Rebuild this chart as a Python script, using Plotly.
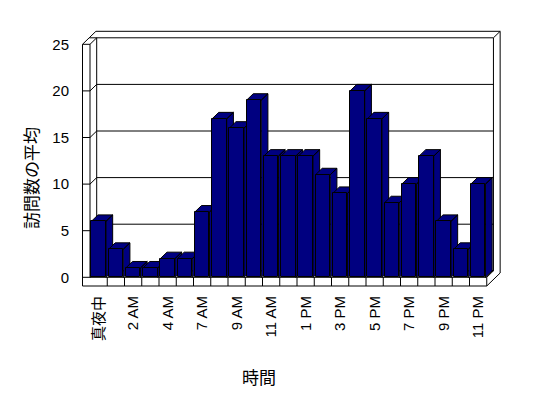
import plotly.graph_objects as go

# ---- data ----
hours = ["真夜中", "1 AM", "2 AM", "3 AM", "4 AM", "6 AM", "7 AM", "8 AM", "9 AM",
         "10 AM", "11 AM", "12 PM", "1 PM", "2 PM", "3 PM", "4 PM", "5 PM", "6 PM",
         "7 PM", "8 PM", "9 PM", "10 PM", "11 PM"]
visits = [6, 3, 1, 1, 2, 2, 7, 17, 16, 19, 13, 13, 13, 11, 9, 20, 17, 8, 10, 13, 6, 3, 10]
y_ticks = [0, 5, 10, 15, 20, 25]
y_title = "訪問数の平均"
x_title = "時間"

# ---- geometry (pixels -> data units) ----
W, H = 548, 398
PX_CAT = 17.25          # pixels per category
PX_VAL = 9.32           # pixels per value unit
X0_PX = 90.0            # pixel of category edge -0.5
Y0_PX = 277.3           # pixel of value 0 (front plane)
L_M, R_M, T_M, B_M = 80, 46, 28, 108
pw, ph = W - L_M - R_M, H - T_M - B_M
x_lo = -0.5 - (X0_PX - L_M) / PX_CAT
x_hi = x_lo + pw / PX_CAT
y_lo = -((H - B_M) - Y0_PX) / PX_VAL
y_hi = y_lo + ph / PX_VAL

DX = 6.7 / PX_CAT       # depth offset, category units
DY = 6.5 / PX_VAL       # depth offset, value units
LW = 7.5 / PX_CAT       # left wall thickness
FT = 8.7 / PX_VAL       # floor thickness
n = len(visits)
xe = n - 0.5            # right edge of categories
xl_in, xl_out = -0.5, -0.5 - LW
top = y_ticks[-1]
hw = 0.425

fig = go.Figure()

# ---- walls, floor and grid (line work) ----
wx, wy = [], []
def seg(xs, ys):
    wx.extend(list(xs) + [None]); wy.extend(list(ys) + [None])

# front faces of left wall + floor
seg([xl_in, xl_out, xl_out, xe, xe, xl_in, xl_in], [top, top, -FT, -FT, 0, 0, top])
# left wall top
seg([xl_out, xl_out + DX, xl_in + DX], [top, top + DY, top + DY])
seg([xl_in, xl_in + DX], [top, top + DY])
# back wall inner face
seg([xl_in + DX, xe + DX, xe + DX, xl_in + DX, xl_in + DX], [DY, DY, top + DY, top + DY, DY])
# back wall top & right outer edge
seg([xl_out + DX, xl_out + 2 * DX, xe + 2 * DX, xe + 2 * DX], [top + DY, top + 2 * DY, top + 2 * DY, -FT + 2 * DY])
seg([xe + DX, xe + 2 * DX], [top + DY, top + 2 * DY])
# floor right side
seg([xe, xe + DX], [0, DY])
seg([xe, xe + 2 * DX], [-FT, -FT + 2 * DY])
# grid: front tick across left wall, diagonal along wall, line on back wall
for v in y_ticks[:-1]:
    seg([xl_out, xl_in, xl_in + DX, xe + DX], [v, v, v + DY, v + DY])
# floor front dividers
for k in range(n - 1):
    seg([k + 0.5, k + 0.5], [-FT, 0])

fig.add_trace(go.Scatter(x=wx, y=wy, mode="lines", line=dict(color="black", width=1),
                         hoverinfo="skip", showlegend=False))

# ---- top and side faces of each column ----
for i, v in enumerate(visits):
    L, R = i - hw, i + hw
    fx = [L, R, R + DX, L + DX, L, None, R, R + DX, R + DX, R, R]
    fy = [v, v, v + DY, v + DY, v, None, 0, DY, v + DY, v, 0]
    fig.add_trace(go.Scatter(x=fx, y=fy, mode="lines", fill="toself",
                             fillcolor="#000080", line=dict(color="black", width=1),
                             hoverinfo="skip", showlegend=False))

# ---- front faces (bars) on overlay axes so they sit on top ----
fig.add_trace(go.Bar(x=list(range(n)), y=visits, width=2 * hw, xaxis="x2", yaxis="y2",
                     marker=dict(color="#000080", line=dict(color="black", width=1)),
                     hovertext=hours, showlegend=False))

tick_font = dict(family="Liberation Sans, Arial, Noto Sans CJK JP", size=15, color="black")
fig.update_layout(
    width=W, height=H,
    margin=dict(l=L_M, r=R_M, t=T_M, b=B_M, pad=0),
    paper_bgcolor="white", plot_bgcolor="white",
    bargap=0,
    xaxis=dict(range=[x_lo, x_hi], showgrid=False, zeroline=False, showline=False,
               tickmode="array", tickvals=list(range(0, n, 2)),
               ticktext=[hours[i] for i in range(0, n, 2)],
               tickangle=-90, tickfont=tick_font, ticks="", ticklabelstandoff=2),
    yaxis=dict(range=[y_lo, y_hi], showgrid=False, zeroline=False, showline=False,
               tickmode="array", tickvals=y_ticks, tickfont=tick_font, ticks="",
               ticklabelstandoff=10),
    xaxis2=dict(overlaying="x", matches="x", visible=False, range=[x_lo, x_hi]),
    yaxis2=dict(overlaying="y", matches="y", visible=False, range=[y_lo, y_hi]),
    annotations=[
        dict(text=y_title, textangle=-90, xref="paper", yref="paper",
             x=(30 - L_M) / pw, y=((H - B_M) - 178) / ph, showarrow=False,
             xanchor="center", yanchor="middle",
             font=dict(family="Noto Sans CJK JP", size=17, color="black")),
        dict(text=x_title, xref="paper", yref="paper",
             x=(259 - L_M) / pw, y=((H - B_M) - 376) / ph, showarrow=False,
             xanchor="center", yanchor="middle",
             font=dict(family="Noto Sans CJK JP", size=17, color="black")),
    ],
)

fig.write_html("out.html")
